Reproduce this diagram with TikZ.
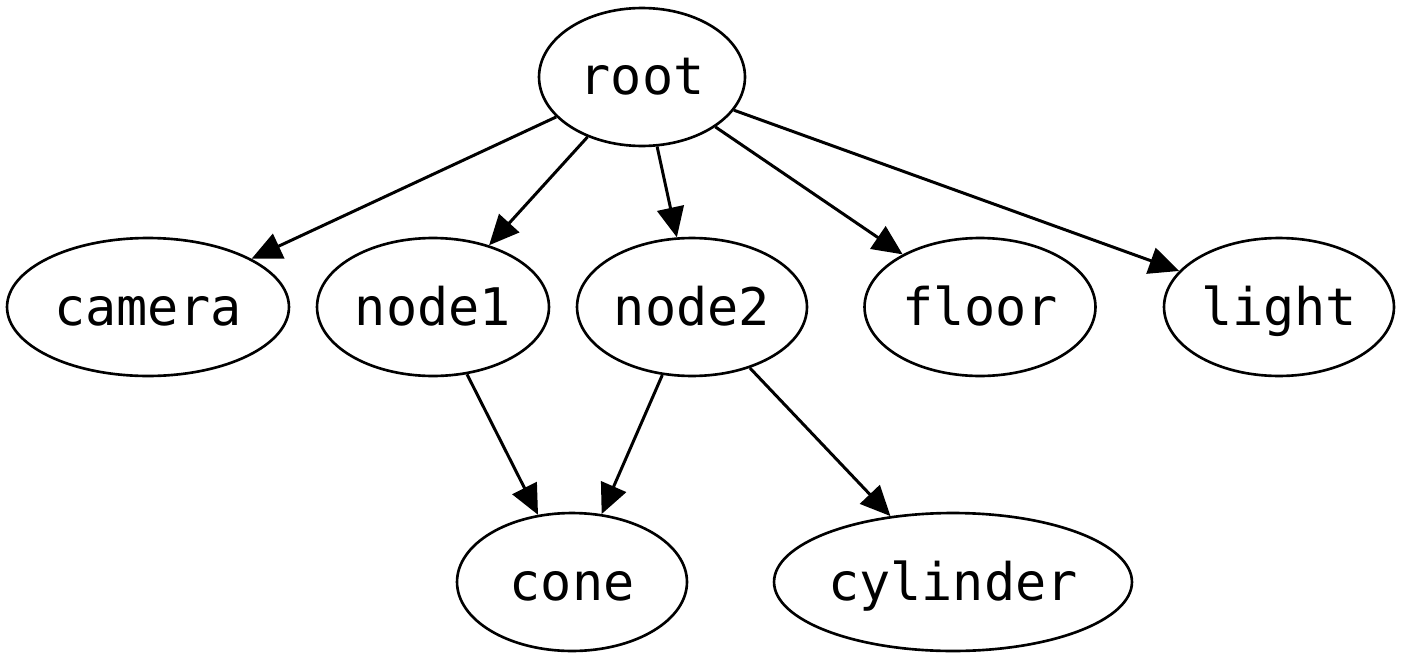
\documentclass[tikz,border=0pt]{standalone}
\usepackage{fontspec}
\newfontfamily\gvmono{DejaVu Sans Mono}
\usetikzlibrary{shapes.geometric,arrows.meta}
\tikzset{
  gnode/.style={draw, ellipse, line width=1.5pt, inner sep=0pt,
    minimum height=2.76cm, text height=0.77cm, text depth=0.05cm,
    font=\gvmono\fontsize{29.5}{34}\selectfont},
  gedge/.style={line width=1.7pt, -{Triangle[length=0.6cm,width=0.54cm]}}
}
\begin{document}
\begin{tikzpicture}[x=0.02cm,y=-0.02cm]
\useasboundingbox (0,0) rectangle (1403,659);
\node[gnode, minimum width=4.12cm] (root) at (642,77) {root};
\node[gnode, minimum width=5.64cm] (camera) at (148,307) {camera};
\node[gnode, minimum width=4.64cm] (node1) at (433,307) {node1};
\node[gnode, minimum width=4.60cm] (node2) at (692,307) {node2};
\node[gnode, minimum width=4.62cm] (floor) at (980,307) {floor};
\node[gnode, minimum width=4.60cm] (light) at (1279,307) {light};
\node[gnode, minimum width=4.60cm] (cone) at (572,582) {cone};
\node[gnode, minimum width=7.16cm] (cylinder) at (953,582) {cylinder};
\draw[gedge] (root) -- (camera);
\draw[gedge] (root) -- (node1);
\draw[gedge] (root) -- (node2);
\draw[gedge] (root) -- (floor);
\draw[gedge] (root) -- (light);
\draw[gedge] (node1) -- (cone);
\draw[gedge] (node2) -- (cone);
\draw[gedge] (node2) -- (cylinder);
\end{tikzpicture}
\end{document}
